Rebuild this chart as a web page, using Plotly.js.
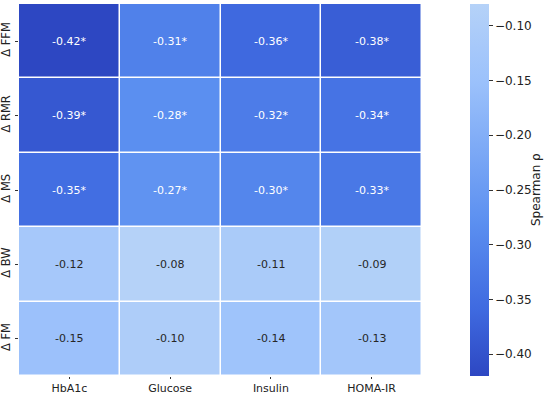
<!DOCTYPE html>
<html>
<head>
<meta charset="utf-8">
<script src="https://cdn.plot.ly/plotly-3.0.1.min.js"></script>
<style>html,body{margin:0;padding:0;background:#fff}#chart{width:550px;height:394px}</style>
</head>
<body>
<div id="chart"></div>
<script>
const columns = ["HbA1c", "Glucose", "Insulin", "HOMA-IR"];
const rows = ["Δ FFM", "Δ RMR", "Δ MS", "Δ BW", "Δ FM"];
const ffm = [-0.42, -0.31, -0.36, -0.38];
const rmr = [-0.39, -0.28, -0.32, -0.34];
const ms  = [-0.35, -0.27, -0.30, -0.33];
const bw  = [-0.12, -0.08, -0.11, -0.09];
const fm  = [-0.15, -0.10, -0.14, -0.13];
const significant = [true, true, true, false, false];
const colorTicks = [-0.10, -0.15, -0.20, -0.25, -0.30, -0.35, -0.40];

const z = [ffm, rmr, ms, bw, fm];
const annotations = [];
z.forEach((row, i) => {
  row.forEach((v, j) => {
    annotations.push({
      x: columns[j], y: rows[i], xref: 'x', yref: 'y', showarrow: false,
      text: v.toFixed(2) + (significant[i] ? '*' : ''),
      font: {family: 'DejaVu Sans', size: 11, color: v < -0.2 ? '#ffffff' : '#262626'}
    });
  });
});
annotations.push({
  xref: 'paper', yref: 'paper', x: 1.283, y: 0.5, xanchor: 'center', yanchor: 'middle',
  showarrow: false, textangle: -90,
  text: 'Spearman ρ', font: {family: 'DejaVu Sans', size: 12, color: '#222'}
});

const trace = {
  type: 'heatmap', x: columns, y: rows, z: z,
  zmin: -0.42, zmax: -0.08,
  xgap: 1.5, ygap: 1.5,
  colorscale: [[0, '#2d47c2'], [0.18, '#3f6ae0'], [0.41, '#5b8ff0'], [0.79, '#9bc1fb'], [0.88, '#a6c8fa'], [1, '#b5d2f8']],
  hoverinfo: 'none',
  colorbar: {
    x: 1.119, xanchor: 'left', xpad: 0, y: 0.5, yanchor: 'middle', ypad: 0,
    len: 1, lenmode: 'fraction', thickness: 19, outlinewidth: 0,
    tickvals: colorTicks, ticktext: colorTicks.map(t => '\u2212' + Math.abs(t).toFixed(2)),
    ticks: 'outside', ticklen: 4, tickwidth: 1, tickcolor: '#333',
    tickfont: {family: 'DejaVu Sans', size: 12, color: '#222'}
  }
};

const layout = {
  width: 550, height: 394,
  margin: {l: 19, r: 128, t: 4, b: 18},
  paper_bgcolor: '#ffffff', plot_bgcolor: '#ffffff',
  font: {family: 'DejaVu Sans', size: 12, color: '#222'},
  xaxis: {showgrid: false, zeroline: false, ticks: 'outside', ticklen: 2, tickcolor: '#333',
          tickfont: {family: 'DejaVu Sans', size: 11, color: '#222'}},
  yaxis: {autorange: 'reversed', showgrid: false, zeroline: false, ticks: 'outside', ticklen: 3,
          tickcolor: '#333', tickangle: -90,
          tickfont: {family: 'DejaVu Sans', size: 11.5, color: '#222'}},
  annotations: annotations
};

Plotly.newPlot('chart', [trace], layout, {displayModeBar: false, staticPlot: true});
</script>
</body>
</html>
